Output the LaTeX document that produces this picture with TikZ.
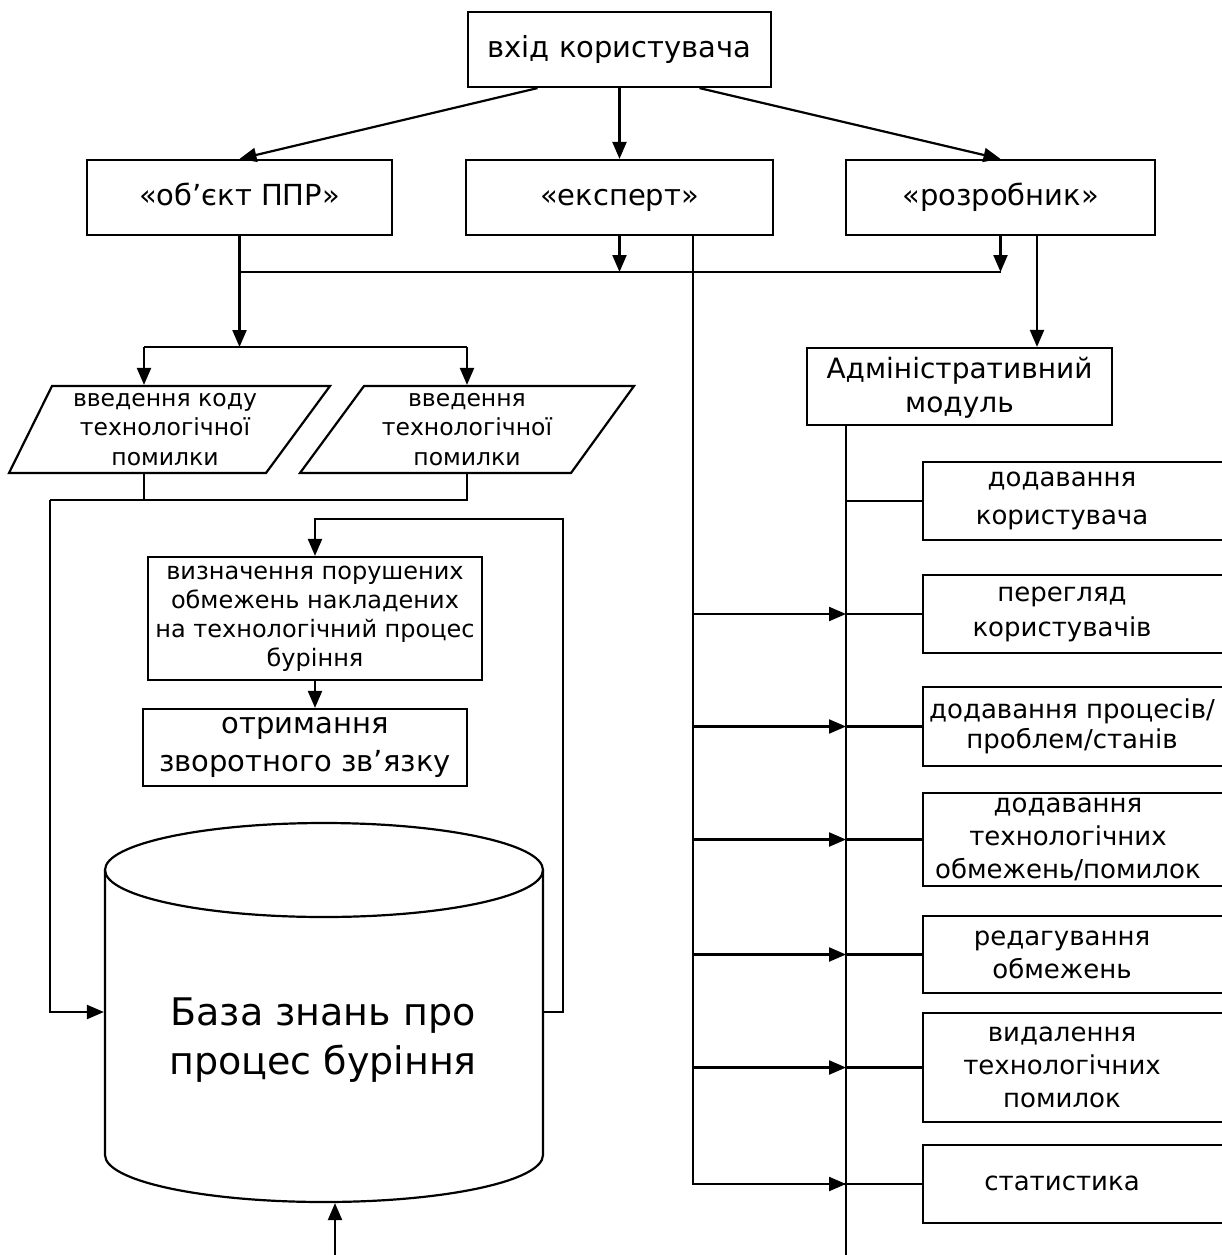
\documentclass[tikz,border=0pt]{standalone}
\usepackage{fontspec}
\setmainfont{DejaVu Sans}
\usetikzlibrary{arrows.meta,calc}
\begin{document}
\begin{tikzpicture}[x=1pt,y=-1pt,
  line width=2.2pt,
  >={Triangle[length=17pt,width=14pt]},
  box/.style={draw,rectangle,inner sep=0pt,align=center},
  txt/.style={rectangle,inner sep=0pt,align=center},
  oneline/.style={text height=#1*0.74pt,text depth=#1*0.22pt},
  fmain/.style={font=\fontsize{29}{34}\selectfont,oneline=29},
  fpar/.style={font=\fontsize{23.5}{29.5}\selectfont},
  fdef/.style={font=\fontsize{24}{29}\selectfont},
  ffb/.style={font=\fontsize{29}{38}\selectfont},
  fadm/.style={font=\fontsize{28}{34}\selectfont},
  fright/.style={font=\fontsize{26}{#1}\selectfont},
  fdb/.style={font=\fontsize{38}{49}\selectfont},
]
\useasboundingbox (0,0) rectangle (1222,1255);
\clip (0,0) rectangle (1222,1255);

% user entry and roles
\node[box,fmain,minimum width=303,minimum height=75] (user) at (619.5,49.5) {вхід користувача};
\node[box,fmain,minimum width=305,minimum height=75] (obj) at (239.5,197.5) {«об’єкт ППР»};
\node[box,fmain,minimum width=307,minimum height=75] (exp) at (619.5,197.5) {«експерт»};
\node[box,fmain,minimum width=309,minimum height=75] (dev) at (1000.5,197.5) {«розробник»};

\draw[->] ([xshift=-82pt]user.south) -- (obj.north);
\draw[->] (user.south) -- (exp.north);
\draw[->] ([xshift=80pt]user.south) -- (dev.north);

% shared bus under the roles
\coordinate (bus) at (0,272);
\draw (obj.south |- bus) -- (dev.south |- bus);
\draw[->] (exp.south) -- (exp.south |- bus);
\draw[->] (dev.south) -- (dev.south |- bus);

% error input branch
\coordinate (split) at (239.5,347);
\draw[->] (obj.south) -- (split);
\node[txt,fpar,minimum height=87] (p1) at (165,429.5) {введення коду\\технологічної\\помилки};
\node[txt,fpar,minimum height=87] (p2) at (467,429.5) {введення\\технологічної\\помилки};
\draw (52,386) -- (330,386) -- (266,473) -- (9,473) -- cycle;
\draw (364,386) -- (634,386) -- (571,473) -- (300,473) -- cycle;
\coordinate (inA) at (144,347);
\draw (inA) -- (p2.north |- split);
\draw[->] (inA) -- (inA |- p1.north);
\draw[->] (p2.north |- split) -- (p2.north);
\coordinate (outA) at (144,473);
\coordinate (join) at (50,500);
\draw (outA) -- (outA |- join);
\draw (p2.south) -- (p2.south |- join) -- (join);

% processing chain
\node[box,fdef,minimum width=334,minimum height=123] (def) at (315,618.5)
  {визначення порушених\\обмежень накладених\\на технологічний процес\\буріння};
\node[box,ffb,minimum width=324,minimum height=77] (fb) at (305,747.5)
  {отримання\\зворотного зв’язку};
\draw[->] (def.south) -- (def.south |- fb.north);

% knowledge base
\node[txt,minimum width=438,minimum height=380] (db) at (324,1012) {};
\node[txt,fdb] (dbtext) at (323,1040) {База знань про\\процес буріння};
\draw (324,870) ellipse[x radius=219pt,y radius=47pt];
\draw (105,870) -- (105,1155) arc[start angle=180,end angle=360,x radius=219pt,y radius=47pt] -- (543,870);

\draw[->] (join) |- (db.west);
\coordinate (loop) at (563,519);
\draw[->] (db.east) -- (db.east -| loop) -- (loop) -| (def.north);
\coordinate (dbin) at (335,1260);
\draw[->] (dbin) -- (dbin |- db.south);

% administrative module
\node[box,fadm,minimum width=305,minimum height=77] (adm) at (959.5,386.5) {\strut Адміністративний\\модуль};
\draw[->] ([xshift=36.5pt]dev.south) -- ([xshift=36.5pt]dev.south |- adm.north);
\coordinate (admx) at (846,0);
\coordinate (admEnd) at (846,1260);
\draw (adm.south -| admx) -- (admEnd);

% administrative functions: boxes open to the right, left edge at boxl
\coordinate (boxl) at (923,0);
\coordinate (boxr) at (1240,0);
\node[txt,fright=38,minimum height=76] (r1) at (1062,501) {додавання\\користувача};
\node[txt,fright=35,minimum height=76] (r2) at (1062,614) {перегляд\\користувачів};
\node[txt,fright=30,minimum height=77] (r3) at (1072,726.5) {додавання процесів/\\проблем/станів};
\node[txt,fright=33,minimum height=91] (r4) at (1068,839.5) {додавання\\технологічних\\обмежень/помилок};
\node[txt,fright=33,minimum height=75] (r5) at (1062,954.5) {редагування\\обмежень};
\node[txt,fright=33,minimum height=107] (r6) at (1062,1067.5) {видалення\\технологічних\\помилок};
\node[txt,fright=33,oneline=26,minimum height=76] (r7) at (1062,1184) {статистика};
\foreach \r in {r1,r2,r3,r4,r5,r6,r7}{
  \draw (\r.north -| boxr) -| (\r.south -| boxl) -- (\r.south -| boxr);
  \draw (\r.center -| admx) -- (\r.center -| boxl);
}

% expert access to the functions
\coordinate (expx) at (693,0);
\draw ([xshift=73.5pt]exp.south) |- (r7.center -| admx);
\foreach \r in {r2,r3,r4,r5,r6,r7}{
  \draw[->] (\r.center -| expx) -- (\r.center -| admx);
}
\end{tikzpicture}
\end{document}
